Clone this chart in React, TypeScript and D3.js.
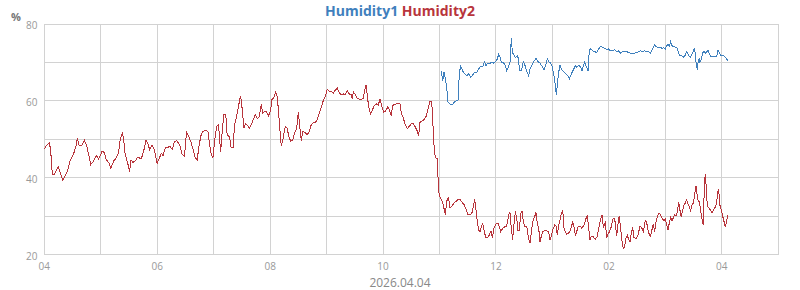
import React from "react";
import * as d3 from "d3";

const seriesNames = ["Humidity1", "Humidity2"];
const unitLabel = "%";
const dateLabel = "2026.04.04";
const yTickValues = [20, 40, 60, 80];
const yGridValues = [20, 30, 40, 50, 60, 70, 80];
const startTime = new Date(2026, 3, 4, 4, 0, 0);
const endTime = new Date(2026, 3, 4, 17, 0, 0);

// [minutes after 04:00, humidity %]
const humidity2: [number, number][] = [
  [0,47.5],[2.5,48.4],[5.3,49.1],[6.7,47.3],[8.5,40.9],[10.3,40.7],[12.4,41.7],[14.9,42.8],[16.7,41.5],[19.5,39.4],
  [22,40.4],[24.5,41.7],[27.3,44.3],[30.9,46.0],[33.7,48.2],[35.2,50.3],[36.9,48.4],[39.8,48.4],[42.6,49.7],[45.1,48.2],
  [47.2,46.0],[49.4,43.4],[52.2,44.3],[55.1,45.8],[57.6,44.9],[59.4,45.8],[61.5,46.9],[63.6,46.6],[65.8,44.7],[68.6,43.9],
  [70.7,42.4],[73.6,44.3],[76.4,45.1],[78.9,46.5],[80.7,49.9],[82.8,51.6],[84.3,50.1],[86,46.0],[88.5,43.9],[90.7,41.6],
  [92.1,44.6],[94.2,44.0],[96.7,44.4],[99.2,45.3],[101.3,45.1],[103.1,44.9],[105.6,46.9],[108.1,49.7],[109.9,49.1],[112,47.2],
  [114.5,48.5],[117,47.3],[119.8,43.7],[122.3,45.1],[124.4,46.3],[126.2,45.8],[128.7,47.8],[131.2,47.8],[133.3,48.2],[136.2,47.3],
  [138.3,49.4],[141.1,49.6],[144,48.4],[146.5,46.0],[149,45.6],[151.1,51.8],[153.6,50.6],[156.1,49.1],[158.2,47.3],[160.3,45.2],
  [162.5,44.7],[164.6,48.6],[166.7,51.2],[168.9,52.1],[171.7,52.3],[173.8,52.1],[176,48.2],[177.4,46.0],[179.2,45.1],[181,49.5],
  [183.1,53.4],[185.2,53.7],[187.4,46.6],[189.5,53.4],[190.9,56.4],[192.9,56.4],[194.3,51.2],[196.8,50.6],[198.6,47.8],[200.7,47.8],
  [202.1,53.8],[204.3,55.9],[205.7,57.8],[207.8,60.4],
  [208.6,61.3],[210.4,57.7],[212.2,52.9],[213.9,54.1],[216.1,53.6],[217.8,52.7],[220,53.8],[222.1,55.1],[224.2,56.4],[226.3,55.3],
  [228.5,55.9],[230.6,59.2],[232,56.8],[234.1,57.2],[236.3,57.1],[238.4,56.1],[240.5,57.5],[241.9,60.3],[244.1,60.9],[245.8,62.2],
  [247.6,61.1],[249,56.8],[250.4,52.5],[251.8,48.2],[253.3,49.5],[254.7,51.6],[256.1,53.4],[258.2,52.9],[259.6,50.9],[261.8,49.5],
  [263.9,49.7],[266,51.6],[268.1,52.7],[269.9,57.0],[271.3,53.8],[273.1,49.5],[274.5,52.1],[277,51.8],[279.5,51.2],[281.6,52.1],
  [283.7,53.8],[285.9,54.4],[288,54.4],[290.1,55.1],[292.2,56.8],[294.7,58.5],[296.5,60.1],[298.6,61.1],[300.7,63.0],[302.9,62.4],
  [305,62.4],[307.1,62.0],[309.2,62.8],[311.4,63.3],[313.5,62.0],[315.6,61.6],[317.7,61.8],[319.9,61.6],[322,62.7],[324.1,61.8],
  [326.2,61.6],[327.3,60.4],[328.4,62.3],[330.5,61.6],[332.6,60.7],[334.7,60.4],[336.9,60.4],[339,60.7],[340.4,62.7],[341.8,64.1],
  [343.2,61.6],[344.6,58.5],[346.8,56.6],[348.9,57.8],[351,58.9],[353.1,59.2],[354.9,58.9],[356.7,60.4],[358.8,58.5],[360.9,57.0],
  [363.1,57.5],[365.2,58.5],[367.3,57.2],[368.7,56.1],[370.1,58.7],[372.3,59.1],[374.4,59.2],[376.5,59.2],[377.9,59.4],[379.4,56.8],
  [381.5,55.5],[383.6,53.8],[385.7,52.7],[387.9,53.4],[390,54.0],[392.1,54.0],[394.2,53.2],[396.4,52.1],[397.8,50.8],[399.2,54.4],
  [401.3,54.7],[403.4,55.1],[405.6,55.9],[407,57.2],[408.4,58.4],[409.8,59.8],[411.6,59.8],[412.7,55.9],[413.7,49.5],[415.5,45.2],
  [417.6,44.9],
  [418.8,37.8],[419.8,35.2],[421.9,34.4],[423.4,33.4],[425.1,31.6],[426.2,30.3],[427.6,33.8],[429.4,35.0],[431.2,32.1],[433.3,32.7],
  [435.4,33.4],[437.5,33.8],[439.7,34.4],[441.8,34.4],[443.9,33.6],[446,33.0],[448.2,31.8],[450.3,30.3],[452.4,30.3],[454.5,30.9],
  [455.9,32.5],[457.4,34.4],[458.8,31.5],[460.2,28.5],[461.6,26.3],[463,25.9],[464.4,27.2],[465.9,28.1],[467.3,26.3],[469.1,24.4],
  [470.8,24.4],[472.9,25.0],[474.7,26.2],[476.1,24.4],[477.9,26.8],[480,27.9],[482.2,28.1],[483.6,27.2],[485,25.9],[487.1,26.8],
  [489.2,27.2],[491.4,27.4],[493.5,30.3],[494.9,30.9],[496.3,26.8],[497.7,23.9],[499.2,28.1],[500.6,31.2],[502,29.4],[503.4,26.2],
  [504.8,26.3],[506.2,30.7],[507.7,31.2],[509.1,28.5],[510.5,27.2],[512.6,27.4],[514.7,24.1],[516.2,23.0],[517.6,25.9],[519,28.5],
  [520.4,29.4],[522.5,30.9],[523.9,28.1],[525.4,26.8],[526.8,23.3],[528.2,24.8],[529.6,25.9],[531.7,26.2],[533.9,26.2],[536,25.8],
  [537.4,23.7],[538.8,24.8],[540.2,26.3],[542.4,27.7],[543.8,27.4],[545.2,25.0],[546.6,27.7],[548,29.0],[549.5,30.7],[550.9,31.6],
  [552.3,26.8],[553.7,25.9],[555.1,25.3],[557.2,25.6],[559.4,26.5],[561.5,28.5],[562.9,27.2],[564.3,25.0],[565.7,25.9],[567.2,27.2],
  [569.3,27.4],[571.4,26.8],[573.5,27.7],[575.7,29.4],[577.1,30.3],[578.5,26.8],[579.9,23.7],[581.3,24.8],[583.5,24.6],[585.6,23.9],
  [587.7,24.8],[589.8,27.7],[591.3,29.4],[592.7,30.3],[594.1,27.2],[596.2,28.3],[597.6,24.4],[599,25.3],[600.5,25.9],
  [601.1,26.3],[602.5,27.2],[604,29.2],[605.4,29.5],[606.8,28.3],[608.2,24.8],[609.6,27.9],[611,30.1],[612.5,26.5],[613.9,23.6],
  [615.3,21.5],[616.7,22.1],[618.1,24.2],[619.5,25.0],[621,23.9],[622.4,23.3],[623.8,25.7],[625.2,27.0],[626.6,24.4],[628.8,24.2],
  [630.9,25.0],[633,27.4],[635.1,26.8],[636.5,25.9],[638.7,28.9],[640.1,28.3],[641.5,26.5],[642.9,25.2],[644.3,24.8],[645.8,26.5],
  [647.2,27.9],[648.6,25.9],[650,28.3],[651.4,29.7],[652.8,30.6],[654.3,30.6],[655.7,29.9],[657.1,29.2],[658.5,28.8],[659.9,29.2],
  [661.3,27.9],[662.8,26.3],[664.2,28.3],[665.6,29.7],[667,28.8],[668.4,29.5],[669.8,30.4],[671.3,30.1],[672.7,31.0],[674.1,33.7],
  [675.5,31.5],[676.9,29.7],[678.3,31.5],[679.8,32.8],[681.2,33.4],[682.6,34.3],[684,33.1],[685.4,32.4],[686.8,31.5],[688.3,32.8],
  [689.7,33.4],[691.1,35.5],[692.5,37.9],[693.6,35.8],[694.6,34.2],[696.1,33.7],[697.5,31.5],[698.9,29.2],[700.3,27.7],[701.4,37.8],
  [702.4,40.9],[703.5,37.4],[704.6,32.4],[706,32.3],[707.4,31.7],[709.5,30.8],[710.9,31.5],[713.1,32.4],[714.5,33.3],[715.5,36.4],
  [716.6,36.8],[718,32.8],[719.4,31.5],[720.8,30.1],[722.3,28.6],[723.7,27.2],[725.1,28.6],[726.2,30.4],
];

const humidity1: [number, number][] = [
  [421.9,67.8],[423.4,65.2],[424.8,67.6],[426.2,65.7],[427.6,63.5],[429,59.7],[431.2,59.1],[433.3,58.9],[435.4,59.6],[437.5,60.0],
  [439.7,60.2],[441.1,67.4],[442.5,69.0],[444.6,67.8],[446.7,67.0],[448.9,66.5],[451,67.0],[453.1,66.1],[455.2,66.7],[457.4,67.4],
  [459.5,67.4],[461.6,68.3],[463.7,69.0],[465.9,68.9],[468,70.2],[469.4,69.1],[470.8,69.8],[472.9,69.6],[475.1,70.0],[477.2,69.8],
  [479.3,70.2],[481.4,70.9],[482.9,72.2],[484.3,71.3],[485.7,70.0],[487.8,70.0],[490,69.1],[491.4,67.8],[493.5,69.0],[494.9,70.0],
  [496.3,76.3],[497.4,72.6],[498.5,72.2],[500.6,71.3],[502.7,71.7],[504.1,70.9],[504.8,67.8],[506.9,67.8],[509.1,70.2],[511.2,69.0],
  [512.6,67.8],[514.7,66.5],[516.2,68.4],[518.3,69.3],[520.4,70.4],[522.5,71.0],[524.7,70.2],[526.8,69.8],[528.9,69.0],[531,68.1],
  [533.2,69.6],[534.6,71.0],[536,70.2],[537.4,70.0],[539.5,69.0],[541.7,66.3],[543.1,64.1],[544.1,61.5],[545.2,64.3],[546.6,67.4],
  [548,69.3],[549.5,68.3],[551.6,67.6],[553.7,67.1],[555.8,66.7],[558,65.8],[560.1,67.0],[562.2,68.1],[564.3,69.1],[565.7,68.7],
  [567.9,69.3],[570,68.7],[571.4,67.8],[572.8,69.0],[574.2,70.0],[575.7,69.1],[577.8,67.8],[579.2,73.3],[580.6,73.5],[582.8,73.0],
  [584.9,72.8],[587,72.6],[589.1,73.5],[591.3,74.2],[593.4,73.9],[595.5,73.7],[597.6,73.3],[599.7,73.5],
  [601.8,73.0],[604,73.0],[606.1,73.3],[608.2,72.8],[610.3,73.0],[612.5,72.4],[614.6,72.8],[616.7,72.9],[618.8,72.8],[621,72.6],
  [623.1,72.3],[625.2,72.3],[627.3,72.4],[629.5,72.6],[631.6,72.8],[633.7,73.0],[635.8,72.9],[638,73.0],[640.1,72.8],[642.2,72.8],
  [644.3,72.4],[646.5,73.5],[648.6,74.5],[650,74.2],[652.1,73.9],[654.3,73.9],[656.4,73.7],[658.5,73.8],[659.9,73.5],[661.3,74.3],
  [662.8,74.8],[664.2,74.2],[665.6,75.4],[667,74.3],[669.1,74.2],[671.3,73.9],[672.7,73.7],[674.1,72.4],[675.5,71.7],[677.6,71.7],
  [679.1,71.3],[681.2,71.9],[682.6,72.8],[684,72.2],[685.4,71.6],[686.8,71.3],[688.3,72.2],[689.7,73.0],[691.1,73.8],[692.2,70.7],
  [693.2,69.3],[693.9,68.1],[695,70.4],[696.1,70.9],[696.8,70.0],[698.2,70.7],[699.6,72.4],[701,73.0],[702.4,72.4],[703.8,72.6],
  [705.3,73.3],[706.7,72.2],[708.1,71.6],[710.2,71.6],[712.3,71.6],[714.5,71.6],[715.9,73.3],[717.3,72.6],[718.7,71.9],[720.1,71.7],
  [722.3,71.7],[723.7,71.3],[725.1,71.0],[726.2,70.4],
];

const W = 800;
const H = 290;
const plot = { left: 44.3, right: 778.3, top: 24, bottom: 254.5 };
const colors = { h1: "#3f80bd", h2: "#b8353c", grid: "#d2d2d2", axis: "#999", title: "#777" };

export default function App() {
  const x = d3.scaleTime().domain([startTime, endTime]).range([plot.left, plot.right]);
  const y = d3.scaleLinear().domain([20, 80]).range([plot.bottom, plot.top]);
  const toDate = (m: number) => new Date(startTime.getTime() + m * 60000);
  const line = d3
    .line<[number, number]>()
    .x((d) => x(toDate(d[0])))
    .y((d) => y(d[1]));
  const hourTicks = d3.timeHour.every(1)!.range(startTime, new Date(endTime.getTime() + 1));
  const labelTicks = d3.timeHour.every(2)!.range(startTime, endTime);
  const fmt = d3.timeFormat("%I");
  const font = "'Open Sans', sans-serif";

  return (
    <svg
      width={W}
      height={H}
      style={{ position: "absolute", left: 0, top: 0, background: "#fff" }}
      fontFamily={font}
    >
      <g shapeRendering="crispEdges" stroke={colors.grid} strokeWidth={1}>
        {yGridValues.map((v) => (
          <line key={"h" + v} x1={plot.left} x2={plot.right} y1={y(v)} y2={y(v)} />
        ))}
        {hourTicks.map((t) => (
          <line key={"v" + t.getTime()} x1={x(t)} x2={x(t)} y1={plot.top} y2={plot.bottom} />
        ))}
      </g>
      <g fontSize={10} fill={colors.axis}>
        {yTickValues.map((v) => (
          <text key={"yl" + v} x={37.5} y={y(v) + 5} textAnchor="end">
            {v}
          </text>
        ))}
        {labelTicks.map((t) => (
          <text key={"xl" + t.getTime()} x={x(t)} y={270} textAnchor="middle">
            {fmt(t)}
          </text>
        ))}
      </g>
      <text x={400} y={287} textAnchor="middle" fontSize={12} fill="#888">
        {dateLabel}
      </text>
      <text x={11} y={20.5} fontSize={11} fontWeight="bold" fill={colors.title}>
        {unitLabel}
      </text>
      <text x={400} y={16} textAnchor="middle" fontSize={14} fontWeight="bold">
        <tspan fill={colors.h1}>{seriesNames[0]}</tspan>
        <tspan fill={colors.h2}> {seriesNames[1]}</tspan>
      </text>
      <g shapeRendering="crispEdges" fill="none" strokeWidth={1}>
        <path d={line(humidity1) || ""} stroke={colors.h1} />
        <path d={line(humidity2) || ""} stroke={colors.h2} />
      </g>
    </svg>
  );
}
